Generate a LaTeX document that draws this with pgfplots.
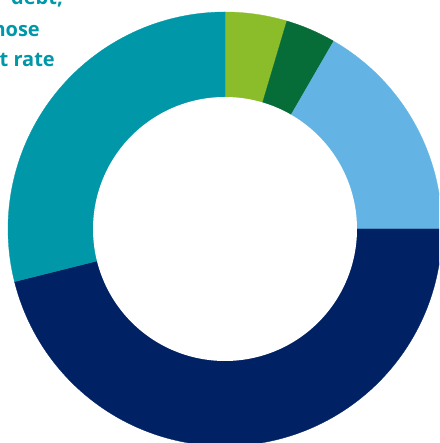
\documentclass[border=0pt]{standalone}
\usepackage{pgfplots}
\pgfplotsset{compat=1.18}
\usepackage{fontspec}
\setmainfont{Open Sans}
\definecolor{cteal}{RGB}{0,151,168}
\definecolor{clgreen}{RGB}{138,189,41}
\definecolor{cdgreen}{RGB}{6,108,56}
\definecolor{clblue}{RGB}{99,180,228}
\definecolor{cnavy}{RGB}{0,33,100}
\begin{document}
\begin{tikzpicture}
% slice shares (percent), clockwise from 12 o'clock
\pgfmathsetmacro\vA{4.6}   % light green
\pgfmathsetmacro\vB{3.75}  % dark green
\pgfmathsetmacro\vC{16.65} % light blue
\pgfmathsetmacro\vD{46.1}  % navy
\pgfmathsetmacro\vE{28.9}  % teal
\pgfmathsetmacro\aA{0}
\pgfmathsetmacro\aB{\aA+3.6*\vA}
\pgfmathsetmacro\aC{\aB+3.6*\vB}
\pgfmathsetmacro\aD{\aC+3.6*\vC}
\pgfmathsetmacro\aE{\aD+3.6*\vD}
\pgfmathsetmacro\aF{\aE+3.6*\vE}
\begin{axis}[at={(0,0)}, anchor=south west, scale only axis,
  width=439pt, height=443pt,
  xmin=-225, xmax=214, ymin=-214, ymax=229,
  hide axis, clip=true]
\addplot[fill=clgreen, draw=clgreen, line width=0.3pt, domain=\aA:\aB, samples=40] ({217*sin(x)},{217*cos(x)}) -- (axis cs:0,0) -- cycle;
\addplot[fill=cdgreen, draw=cdgreen, line width=0.3pt, domain=\aB:\aC, samples=40] ({217*sin(x)},{217*cos(x)}) -- (axis cs:0,0) -- cycle;
\addplot[fill=clblue, draw=clblue, line width=0.3pt, domain=\aC:\aD, samples=80] ({217*sin(x)},{217*cos(x)}) -- (axis cs:0,0) -- cycle;
\addplot[fill=cnavy, draw=cnavy, line width=0.3pt, domain=\aD:\aE, samples=160] ({217*sin(x)},{217*cos(x)}) -- (axis cs:0,0) -- cycle;
\addplot[fill=cteal, draw=cteal, line width=0.3pt, domain=\aE:\aF, samples=100] ({217*sin(x)},{217*cos(x)}) -- (axis cs:0,0) -- cycle;
\addplot[fill=white, draw=none, domain=0:360, samples=240] ({132*sin(x)},{132*cos(x)}) -- cycle;
\node[anchor=base east, inner sep=0pt, text=cteal, font=\bfseries\fontsize{20}{24}\selectfont] at (axis cs:-162,224) {debt,};
\node[anchor=base east, inner sep=0pt, text=cteal, font=\bfseries\fontsize{20}{24}\selectfont] at (axis cs:-185,192) {those};
\node[anchor=base east, inner sep=0pt, text=cteal, font=\bfseries\fontsize{20}{24}\selectfont] at (axis cs:-170,162) {interest rate};
\end{axis}
\pgfresetboundingbox
\path[use as bounding box] (0,0) rectangle (439pt,443pt);
\end{tikzpicture}
\end{document}
